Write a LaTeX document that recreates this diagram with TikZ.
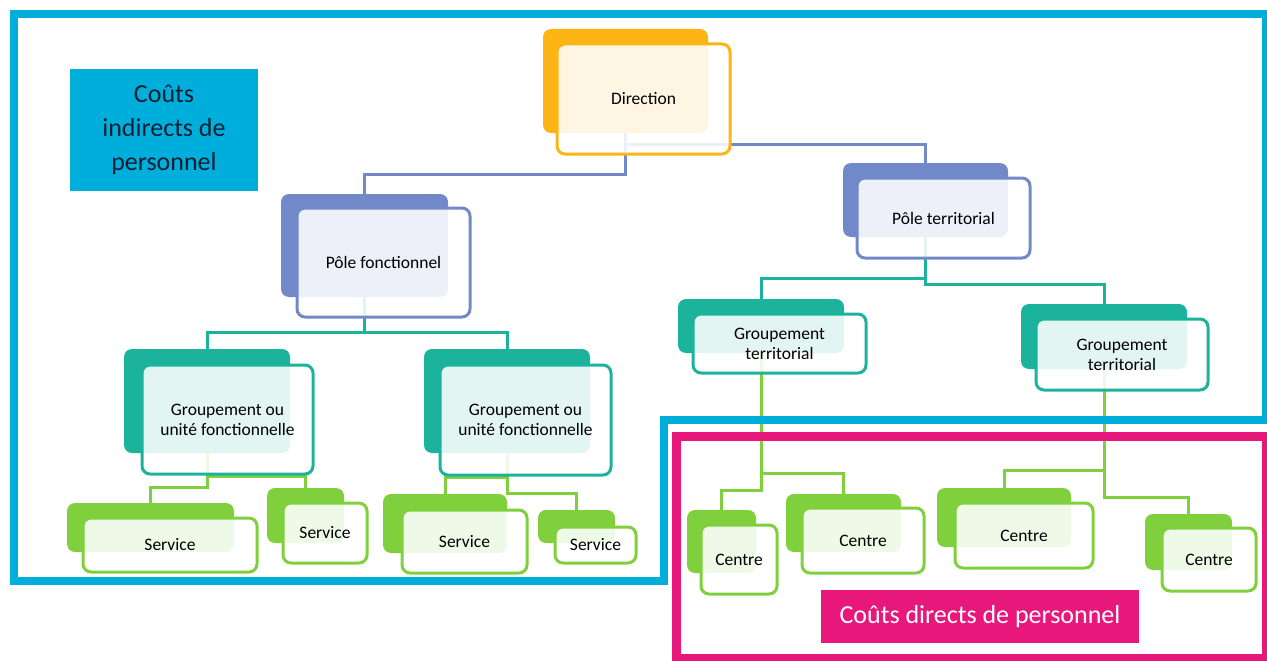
\documentclass[tikz,border=0pt]{standalone}
\usepackage{fontspec}
\setmainfont{Carlito}
\usetikzlibrary{backgrounds}

\definecolor{orgOr}{HTML}{FDB515}
\definecolor{orgPe}{HTML}{7289C9}
\definecolor{orgTe}{HTML}{1CB39C}
\definecolor{orgGr}{HTML}{80D03E}
\definecolor{frameC}{HTML}{00AEDB}
\definecolor{frameM}{HTML}{E8177B}
\definecolor{labInk}{HTML}{0E1E33}

\begin{document}
\begin{tikzpicture}[x=1pt, y=-1pt,
  backbox/.style={rectangle, rounded corners=8pt, draw=none, inner sep=0pt},
  frontbox/.style={rectangle, rounded corners=8pt, line width=3pt, fill=white, fill opacity=.88,
    text opacity=1, inner sep=0pt, align=center, font=\fontsize{17.5}{20}\selectfont},
  link/.style={line width=3pt},
  costlabel/.style={inner sep=0pt, align=center, font=\fontsize{26}{34}\selectfont}]
\useasboundingbox (0,0) rectangle (1267,661);

% boxes of the chart: back plate, then front card
\foreach \n/\col/\bx/\by/\bw/\bh/\fx/\fy/\fw/\fh/\txt in {
  dir/orgOr/625.5/81/165/104/643.5/99/173/110/Direction,
  pf/orgPe/364.5/245.5/167/103/383.5/262.5/173/109/P\^ole fonctionnel,
  pt/orgPe/925.5/200/165/74/943.5/218/173/80/P\^ole territorial,
  gfa/orgTe/207/401/166/104/227.5/419.5/171/109/{Groupement ou\\unit\'e fonctionnelle},
  gfb/orgTe/507/401/166/104/525.5/420/171/110/{Groupement ou\\unit\'e fonctionnelle},
  gta/orgTe/761/326/166/54/779.5/343.5/173/59/{Groupement\\territorial},
  gtb/orgTe/1104/336.5/166/65/1122/354.5/172/71/{Groupement\\territorial},
  sa/orgGr/150.5/527.5/167/49/170/545/174/54/Service,
  sb/orgGr/305.5/515.5/77/55/325/533/84/60/Service,
  sc/orgGr/445/523.5/124/59/464.5/541.5/125/63/Service,
  sd/orgGr/576.5/526.5/77/33/595.5/545/81/36/Service,
  ca/orgGr/721.5/541.5/69/63/739/559.5/76/69/Centre,
  cb/orgGr/843.5/523/115/58/863/540.5/122/65/Centre,
  cc/orgGr/1004/517.5/134/59/1024/535.5/138/65/Centre,
  cd/orgGr/1188.5/542/87/56/1209/559.5/94/63/Centre}
{
  \node[backbox, fill=\col, minimum width=\bw pt, minimum height=\bh pt] (b\n) at (\bx,\by) {};
  \node[frontbox, draw=\col, minimum width=\fw pt, minimum height=\fh pt] (\n) at (\fx,\fy) {\txt};
}

% elbow links, behind the cards
\begin{pgfonlayer}{background}
\foreach \p/\c/\y/\col in {dir/pf/174/orgPe, dir/pt/144/orgPe,
  pf/gfa/332/orgTe, pf/gfb/332/orgTe, pt/gta/278/orgTe, pt/gtb/284/orgTe,
  gfa/sa/487/orgGr, gfa/sb/476/orgGr, gfb/sc/477/orgGr, gfb/sd/493/orgGr,
  gta/ca/490/orgGr, gta/cb/473/orgGr, gtb/cc/470/orgGr, gtb/cd/497/orgGr}
  \draw[link, \col] (b\p.south) -- (b\p.south |- 0,\y) -| (b\c.north);
\end{pgfonlayer}

% cost frames
\draw[line width=8pt, frameC] (14,14) -- (1266,14) -- (1266,420) -- (664,420) -- (664,581) -- (14,581) -- cycle;
\draw[line width=9pt, frameM] (676,436) -- (1266,436) -- (1266,658) -- (676,658) -- cycle;

\node[costlabel, fill=frameC, text=labInk, minimum width=188pt, minimum height=122pt] (indirect) at (164,130) {Co\^uts\\indirects de\\personnel};
\node[costlabel, fill=frameM, text=white, minimum width=318pt, minimum height=53pt] (direct) at (980,616.5) {Co\^uts directs de personnel};

\end{tikzpicture}
\end{document}
